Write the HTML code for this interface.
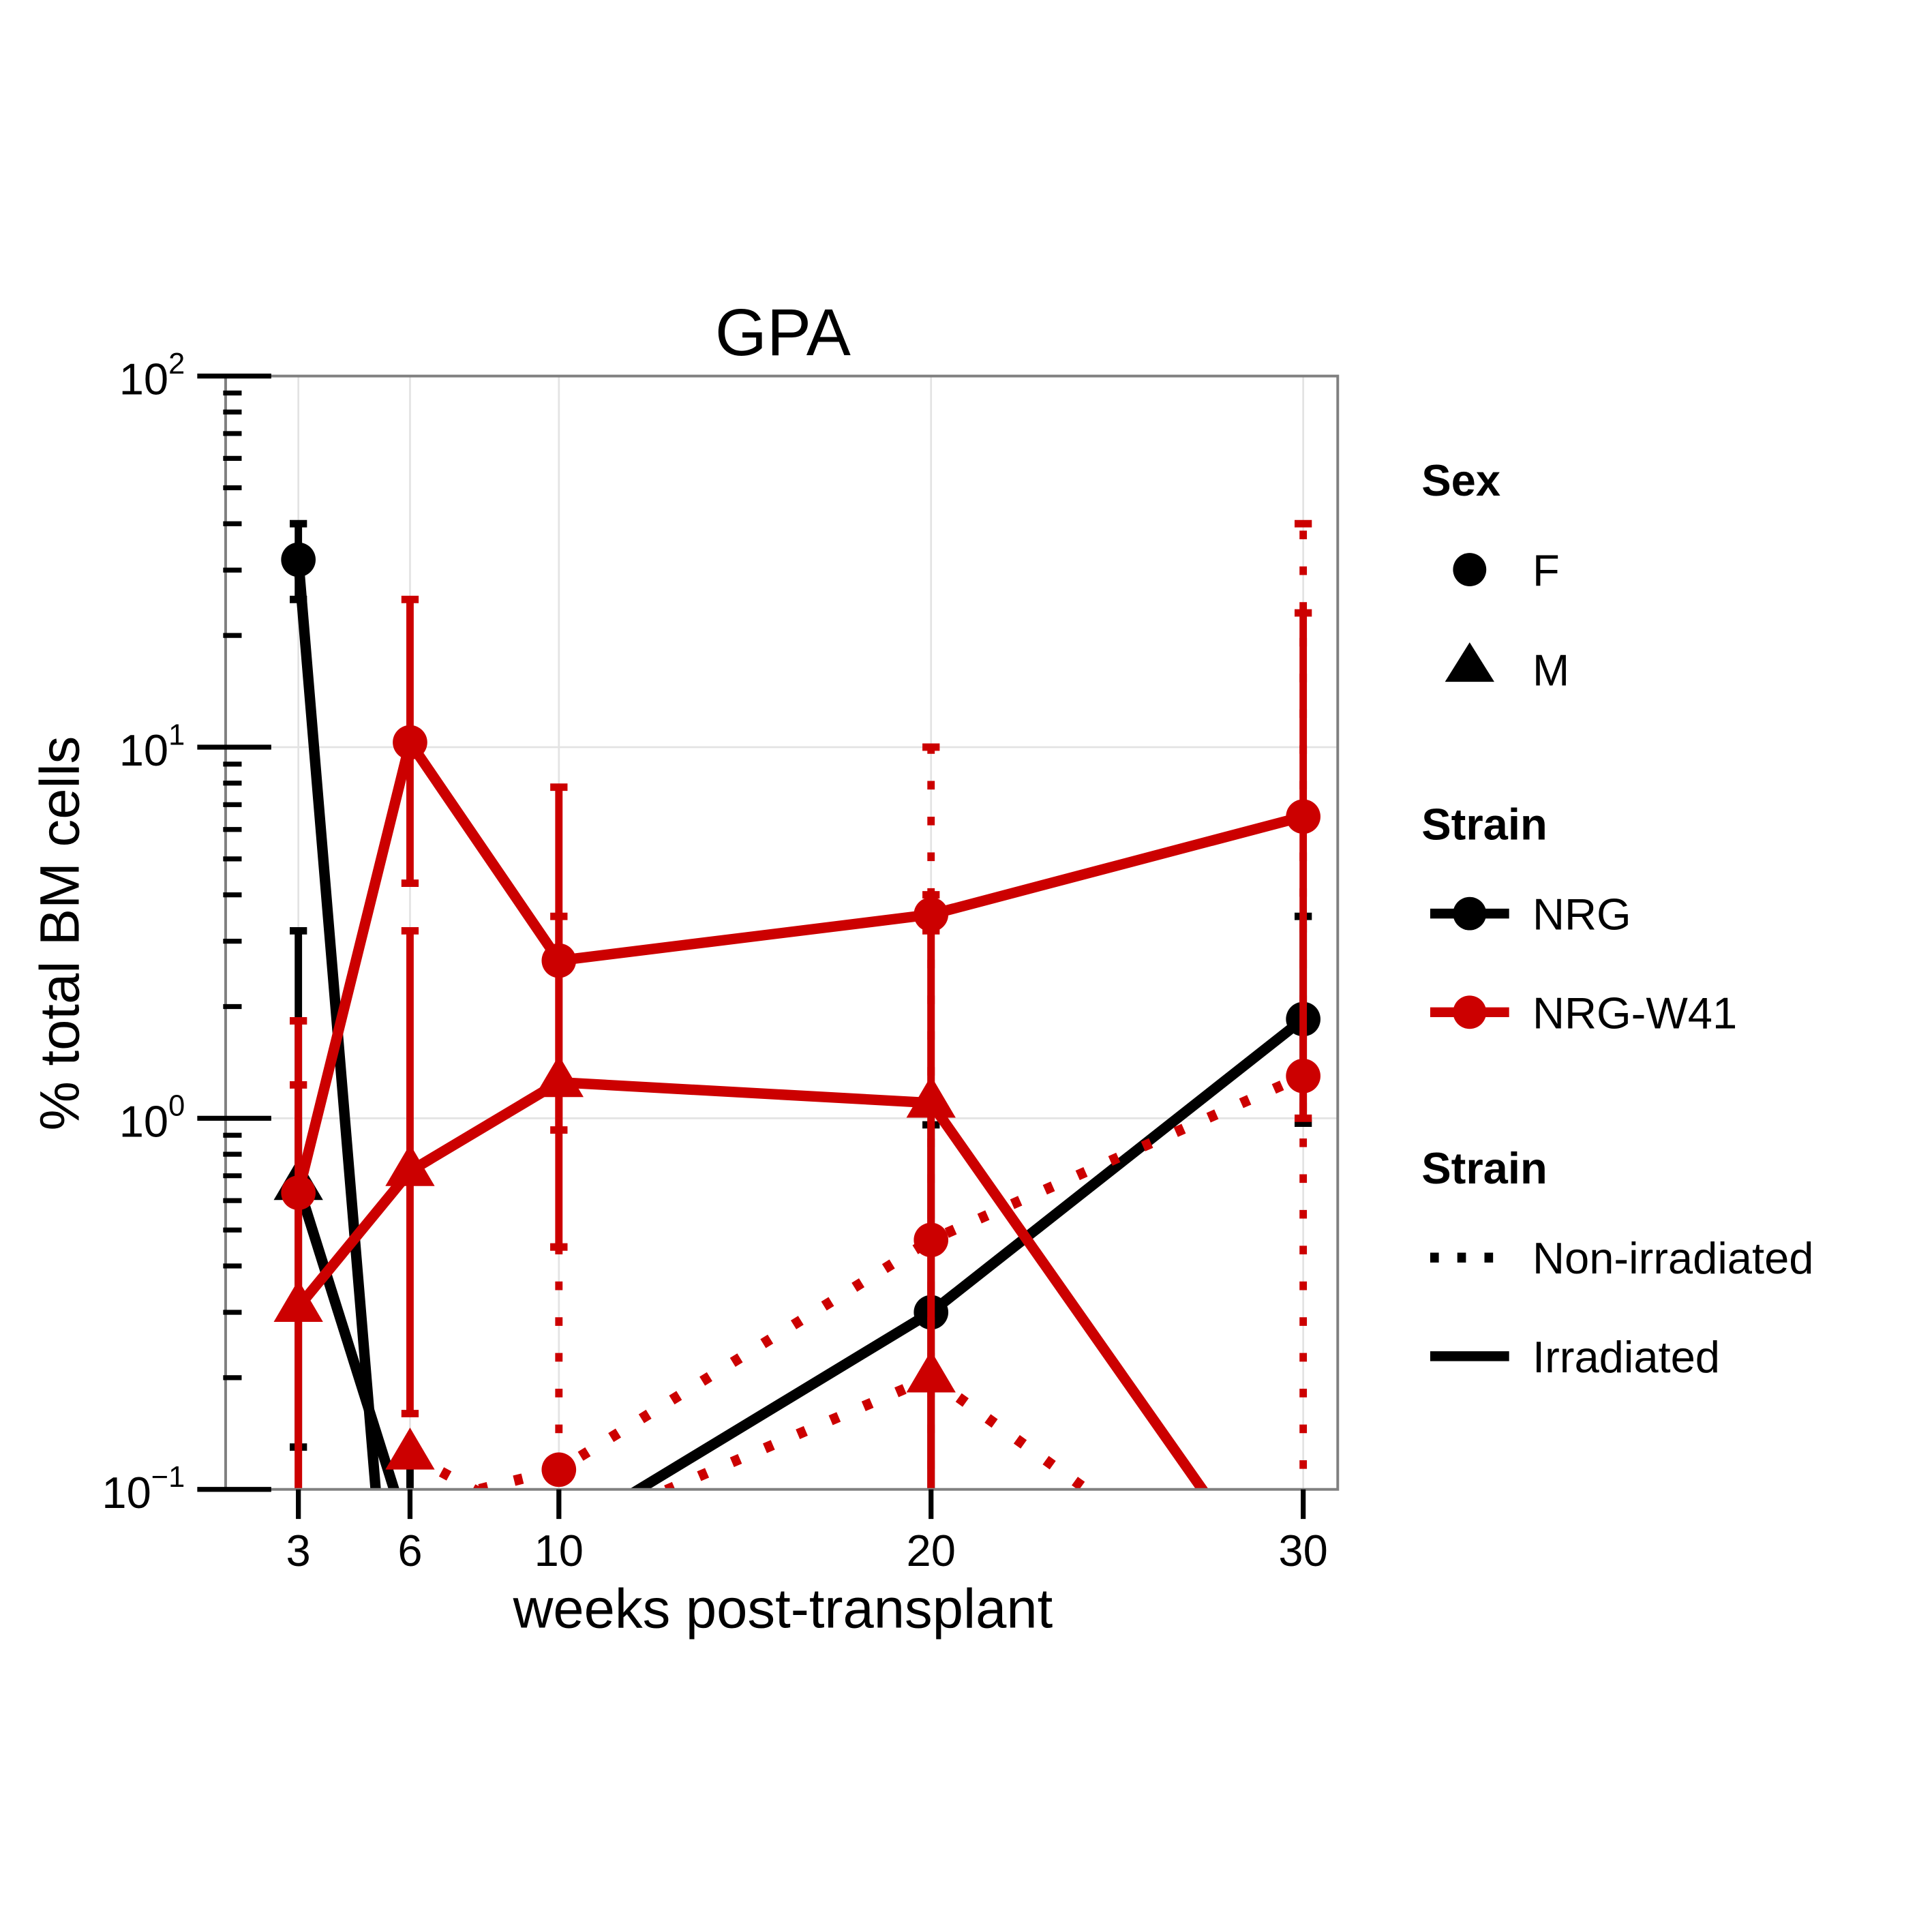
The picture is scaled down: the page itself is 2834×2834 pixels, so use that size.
<!DOCTYPE html>
<html><head><meta charset="utf-8"><style>
html,body{margin:0;padding:0;background:#fff;}
svg{display:block;font-family:"Liberation Sans",sans-serif;}
</style></head><body>
<svg id="chart" width="2834" height="2834" viewBox="0 0 1567 1567" xmlns="http://www.w3.org/2000/svg">
<defs><clipPath id="pc"><rect x="183" y="305" width="902" height="903"/></clipPath></defs>
<g id="grid"></g>
<g id="series" clip-path="url(#pc)"></g>
<rect x="183" y="305" width="902" height="903" fill="none" stroke="#808080" stroke-width="2.2"/>
<g id="axes"></g>
<text x="635" y="288" font-size="54" text-anchor="middle">GPA</text>
<text x="635" y="1320" font-size="45" text-anchor="middle">weeks post-transplant</text>
<text transform="translate(64,757) rotate(-90)" font-size="45" text-anchor="middle">% total BM cells</text>
<g font-size="36">
<text x="1153" y="402" font-weight="bold">Sex</text>
<g><circle cx="1192" cy="462" r="13.5"/><text x="1243" y="475">F</text></g>
<g><polygon points="1192,521 1212,553 1172,553"/><text x="1243" y="556">M</text></g>
<text x="1153" y="681" font-weight="bold">Strain</text>
<g><line x1="1160" y1="741" x2="1224" y2="741" stroke="#000" stroke-width="8"/><circle cx="1192" cy="741" r="13.5"/><text x="1243" y="754">NRG</text></g>
<g><line x1="1160" y1="821" x2="1224" y2="821" stroke="#cc0000" stroke-width="8"/><circle cx="1192" cy="821" r="13.5" fill="#cc0000"/><text x="1243" y="834">NRG-W41</text></g>
<text x="1153" y="960" font-weight="bold">Strain</text>
<g><line x1="1160" y1="1020" x2="1224" y2="1020" stroke="#000" stroke-width="8" stroke-dasharray="7 15"/><text x="1243" y="1033">Non-irradiated</text></g>
<g><line x1="1160" y1="1100" x2="1224" y2="1100" stroke="#000" stroke-width="8"/><text x="1243" y="1113">Irradiated</text></g>
</g>
</svg>
<script>
const weeks=[3,6,10,20,30];
const nrgF_irr=[32,0.0077,0.074,0.3,1.85];
const nrgF_irr_lo=[25,null,null,0.03,0.97];
const nrgF_irr_hi=[40,null,null,0.96,3.5];
const nrgM_irr=[0.66,0.073,null,null,null];
const nrgM_irr_lo=[0.13,0.03,null,null,null];
const nrgM_irr_hi=[3.2,0.13,null,null,null];
const w41F_irr=[0.63,10.3,2.66,3.54,6.5];
const w41F_irr_lo=[0.05,4.3,0.93,0.05,1.0];
const w41F_irr_hi=[1.83,25,7.8,4.0,23];
const w41M_irr=[0.31,0.72,1.25,1.1,0.041];
const w41M_irr_lo=[0.05,0.16,0.45,0.05,null];
const w41M_irr_hi=[1.23,3.2,3.5,3.2,null];
const w41F_non=[null,0.09,0.113,0.47,1.3];
const w41F_non_lo=[null,null,0.03,0.03,0.03];
const w41F_non_hi=[null,null,0.45,10,40];
const w41M_non=[null,0.124,0.075,0.2,0.038];
const yTickLabels=["10","10","10","10"];
const yTickExps=["\u22121","0","1","2"];
const xTickLabels=["3","6","10","20","30"];

const NS="http://www.w3.org/2000/svg";
const X=w=>242+(w-3)*(1057-242)/27;
const Y=v=>907-Math.log10(v)*301;
function mk(tag,attrs,parent){const e=document.createElementNS(NS,tag);for(const k in attrs)e.setAttribute(k,attrs[k]);parent.appendChild(e);return e;}
const grid=document.getElementById('grid'),axes=document.getElementById('axes'),ser=document.getElementById('series');
weeks.forEach((w,i)=>{
 const g=mk('line',{x1:X(w),x2:X(w),y1:305,y2:1208,stroke:'#e3e3e3','stroke-width':1.5},grid);
 
 
 const t=mk('line',{x1:X(w),x2:X(w),y1:1208,y2:1232,stroke:'#000','stroke-width':4},axes);
 
 
 const l=mk('text',{x:X(w),y:1270,'font-size':36,'text-anchor':'middle'},axes);
 l.textContent=xTickLabels[i];
 
 
});
for(let d=-1;d<=2;d++){
 const y=Y(Math.pow(10,d));
 const g=mk('line',{x1:183,x2:1085,y1:y,y2:y,stroke:'#e3e3e3','stroke-width':1.5},grid);
 
 
 const t=mk('line',{x1:160,x2:220,y1:y,y2:y,stroke:'#000','stroke-width':4},axes);
 
 
 const l=mk('text',{x:150,y:y+15,'font-size':36,'text-anchor':'end'},axes);
 
 
 l.textContent=yTickLabels[d+1];
 const s=mk('tspan',{dy:-17,'font-size':24},l);s.textContent=yTickExps[d+1];
 if(d<2)for(let m=2;m<=9;m++){
  const ym=Y(m*Math.pow(10,d));
  const mt=mk('line',{x1:181,x2:196,y1:ym,y2:ym,stroke:'#000','stroke-width':4},axes);
  
  
 }
}
function series(vals,lo,hi,color,dash,shape,name){
 const g=mk('g',{},ser);
 
 
 const da=dash?{'stroke-dasharray':'7 22'}:{};
 weeks.forEach((w,i)=>{
  if(lo[i]==null||hi[i]==null)return;
  const x=X(w),y1=Y(lo[i]),y2=Y(hi[i]);
  const e=mk('line',Object.assign({x1:x,x2:x,y1:y1,y2:y2,stroke:color,'stroke-width':6},da),g);
  
  
  [y1,y2].forEach(yy=>{const c=mk('line',{x1:x-7,x2:x+7,y1:yy,y2:yy,stroke:color,'stroke-width':6},g);
   
   });
 });
 const pts=[];weeks.forEach((w,i)=>{if(vals[i]!=null)pts.push(X(w)+','+Y(vals[i]));});
 const p=mk('polyline',Object.assign({points:pts.join(' '),fill:'none',stroke:color,'stroke-width':8.5},da),g);
 
 
 weeks.forEach((w,i)=>{
  if(vals[i]==null)return;
  const x=X(w),y=Y(vals[i]);let m;
  if(shape==='c')m=mk('circle',{cx:x,cy:y,r:14,fill:color},g);
  else m=mk('polygon',{points:`${x},${y-22} ${x+20},${y+12} ${x-20},${y+12}`,fill:color},g);
  
  
 });
}
series(nrgM_irr,nrgM_irr_lo,nrgM_irr_hi,'#000',false,'t','nrg-m-irradiated');
series(nrgF_irr,nrgF_irr_lo,nrgF_irr_hi,'#000',false,'c','nrg-f-irradiated');
series(w41F_non,w41F_non_lo,w41F_non_hi,'#cc0000',true,'c','nrg-w41-f-non-irradiated');
series(w41M_non,[null,null,null,null,null],[null,null,null,null,null],'#cc0000',true,'t','nrg-w41-m-non-irradiated');
series(w41M_irr,w41M_irr_lo,w41M_irr_hi,'#cc0000',false,'t','nrg-w41-m-irradiated');
series(w41F_irr,w41F_irr_lo,w41F_irr_hi,'#cc0000',false,'c','nrg-w41-f-irradiated');
</script>
</body></html>
